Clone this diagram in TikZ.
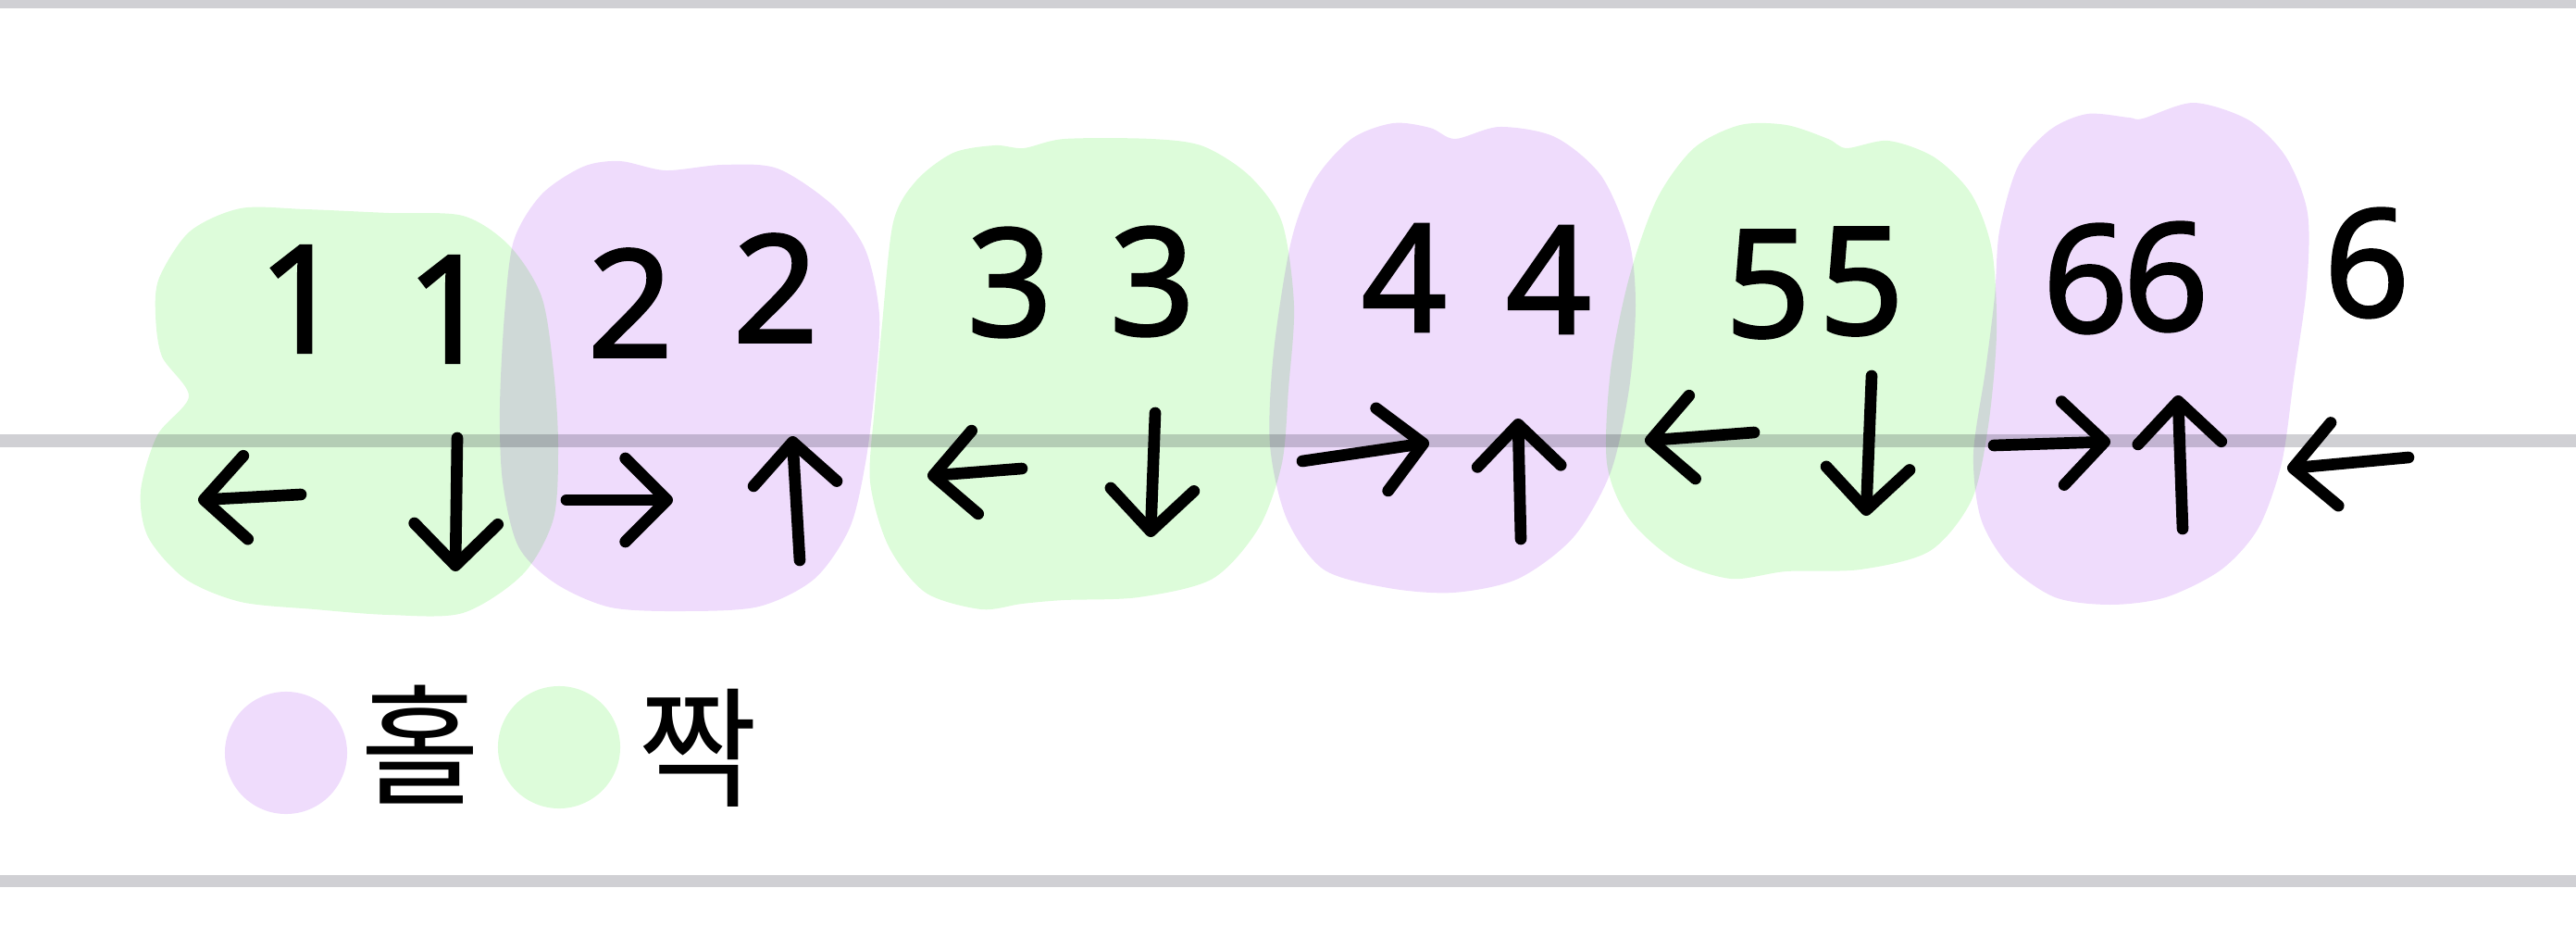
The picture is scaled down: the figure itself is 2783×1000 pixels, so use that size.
\documentclass[tikz,border=0pt]{standalone}
\usepackage{fontspec}
\setmainfont{Noto Sans}[AutoFakeBold=1.6]
\newfontfamily\korfont{Noto Sans CJK KR}
\usetikzlibrary{arrows.meta}
\definecolor{holpurple}{RGB}{239,220,252}
\definecolor{jjakgreen}{RGB}{221,252,218}
\definecolor{ruleline}{RGB}{208,208,212}

\begin{document}
\begin{tikzpicture}[
  x=0.01cm, y=-0.01cm,
  guide/.style={draw=ruleline, line width=0.13cm},
  holblob/.style={fill=holpurple},
  jjakblob/.style={fill=jjakgreen},
  legdot/.style={circle, inner sep=0pt, minimum size=1.32cm},
  num/.style={font=\bfseries\fontsize{46}{50}\selectfont, inner sep=0pt},
  hangul/.style={font=\korfont\fontsize{40}{44}\selectfont, inner sep=0pt},
  dirarrow/.style={-{Straight Barb[length=4.5mm, width=9mm, round]}, line width=3.6pt, line cap=round}
]
  \useasboundingbox (0,0) rectangle (2783,1000);

  % Lineas guia
  \draw[guide, line width=0.09cm] (0,4.5) -- (2783,4.5);
  \draw[guide] (0,476) -- (2783,476);
  \draw[guide] (0,951) -- (2783,951);

  % Manchas de color
  \begin{scope}[blend mode=multiply]
    \fill[jjakblob] plot[smooth cycle] coordinates {(172,300) (205,250) (260,225) (330,226) (420,230) (500,233) (550,265) (585,320) (598,400) (603,480) (598,560) (565,620) (500,662) (420,664) (340,658) (260,650) (200,625) (160,580) (152,530) (170,470) (204,428) (175,385) (168,340)};
    \fill[holblob] plot[smooth cycle] coordinates {(555,260) (585,210) (630,180) (670,174) (719,184) (780,178) (840,182) (900,222) (935,270) (950,340) (945,420) (935,500) (918,570) (880,625) (820,655) (740,660) (660,656) (600,630) (560,590) (543,520) (540,440) (545,340)};
    \fill[jjakblob] plot[smooth cycle] coordinates {(965,240) (990,195) (1030,165) (1075,157) (1106,160) (1150,150) (1244,150) (1300,158) (1350,190) (1385,240) (1398,330) (1392,420) (1385,500) (1360,570) (1310,625) (1230,645) (1150,648) (1104,652) (1060,658) (1000,640) (960,590) (940,520) (945,440) (953,350)};
    \fill[holblob] plot[smooth cycle] coordinates {(1395,260) (1420,195) (1460,150) (1505,133) (1545,138) (1572,150) (1620,137) (1680,148) (1730,190) (1760,260) (1767,330) (1760,420) (1740,510) (1700,580) (1640,625) (1570,640) (1500,635) (1430,615) (1390,560) (1372,480) (1376,380)};
    \fill[jjakblob] plot[smooth cycle] coordinates {(1760,300) (1790,215) (1830,160) (1880,135) (1930,135) (1975,150) (1995,160) (2040,152) (2090,170) (2130,210) (2152,270) (2157,360) (2148,460) (2130,540) (2085,595) (2010,615) (1930,617) (1870,625) (1810,605) (1760,560) (1736,500) (1740,400)};
    \fill[holblob] plot[smooth cycle] coordinates {(2160,250) (2180,180) (2215,140) (2255,123) (2300,127) (2315,128) (2370,111) (2430,130) (2470,170) (2493,230) (2492,310) (2478,410) (2465,500) (2440,570) (2400,615) (2340,645) (2280,653) (2220,645) (2170,610) (2140,560) (2132,490) (2145,400) (2155,320)};
  \end{scope}

  % Numeros
  \node[num] (d1a) at (325,323) {1};
  \node[num] (d1b) at (485,334) {1};
  \node[num] (d2a) at (681,327) {2};
  \node[num] (d2b) at (838,311) {2};
  \node[num] (d3a) at (1091,305) {3};
  \node[num] (d3b) at (1245,304) {3};
  \node[num] (d4a) at (1517,300) {4};
  \node[num] (d4b) at (1673,302) {4};
  \node[num] (d5a) at (1910,307) {5};
  \node[num] (d5b) at (2011,304) {5};
  \node[num] (d6a) at (2253,301) {6};
  \node[num] (d6b) at (2340,299) {6};
  \node[num] (d6c) at (2557,284) {6};

  % Direcciones
  \draw[dirarrow] (325,534) -- (214,540);
  \draw[dirarrow] (494,473) -- (492,617);
  \draw[dirarrow] (612,540) -- (727,540);
  \draw[dirarrow] (864,605) -- (856,471);
  \draw[dirarrow] (1104,506) -- (1002,514);
  \draw[dirarrow] (1248,446) -- (1243,580);
  \draw[dirarrow] (1407,498) -- (1544,478);
  \draw[dirarrow] (1643,582) -- (1640,452);
  \draw[dirarrow] (1895,467) -- (1777,476);
  \draw[dirarrow] (2022,406) -- (2016,557);
  \draw[dirarrow] (2154,481) -- (2280,477);
  \draw[dirarrow] (2358,571) -- (2353,427);
  \draw[dirarrow] (2602,494) -- (2471,506);

  % Leyenda
  \node[legdot, fill=holpurple] (holdot) at (309,813) {};
  \node[hangul] (hol) at (454,804) {홀};
  \node[legdot, fill=jjakgreen] (jjakdot) at (604,807) {};
  \node[hangul] (jjak) at (754,808) {짝};

\end{tikzpicture}
\end{document}
